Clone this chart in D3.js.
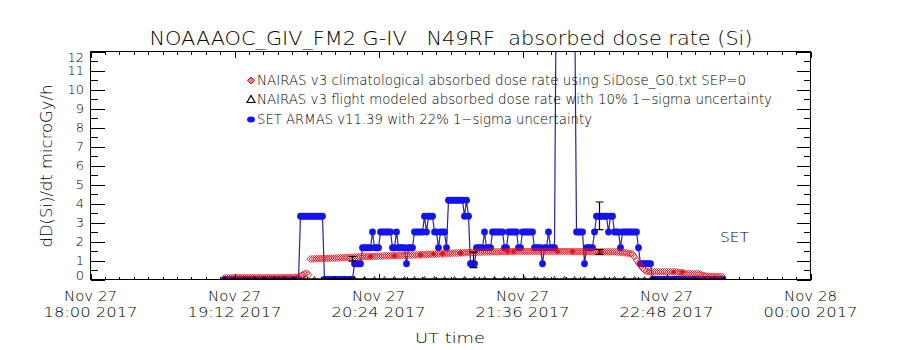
<!DOCTYPE html>
<html><head><meta charset="utf-8">
<script src="https://cdn.jsdelivr.net/npm/d3@7"></script>
<style>body{margin:0;background:#fff}</style>
</head><body><svg id="c" width="900" height="350"></svg>
<script>
// ---------- data ----------
const title = "NOAAAOC_GIV_FM2 G-IV   N49RF  absorbed dose rate (Si)";
const yTitle = "dD(Si)/dt microGy/h";
const xTitle = "UT time";
const xTickMinutes = [0, 72, 144, 216, 288, 360];          // minutes after 18:00 UT
const xTickLine1 = ["Nov 27","Nov 27","Nov 27","Nov 27","Nov 27","Nov 28"];
const xTickLine2 = ["18:00 2017","19:12 2017","20:24 2017","21:36 2017","22:48 2017","00:00 2017"];
const yTickValues = [0,1,2,3,4,5,6,7,8,9,10,11,12];
const legendLabels = [
  "NAIRAS v3 climatological absorbed dose rate using SiDose_G0.txt SEP=0",
  "NAIRAS v3 flight modeled absorbed dose rate with 10% 1\u2212sigma uncertainty",
  "SET ARMAS v11.39 with 22% 1\u2212sigma uncertainty"
];
const sideLabel = "SET";

const startMinute = 67;   // first 1-minute sample (19:07 UT)
// SET ARMAS v11.39 (microGy/h), one value per minute
const setValues = [
 0,0,0,0,0,0,0,0,0,0,0,0,0,0,0,0,0,0,0,0,0,0,0,0,0,0,0,0,0,0,0,0,0,0,0,0,0,0,
 3.33,3.33,3.33,3.33,3.33,3.33,3.33,3.33,3.33,3.33,3.33,3.33,
 0,0,0,0,0,0,0,0,0,0,0,0,0,0,0,
 0.83,0.83,0.83,0.83,
 1.67,1.67,1.67,1.67,1.67,
 2.5,
 1.67,1.67,1.67,
 2.5,2.5,2.5,2.5,2.5,2.5,
 1.67,1.67,
 2.5,
 1.67,1.67,1.67,1.67,
 0.83,
 1.67,1.67,1.67,
 2.5,2.5,2.5,2.5,2.5,
 3.33,
 2.5,
 3.33,3.33,3.33,
 2.5,2.5,
 1.67,
 2.5,2.5,2.5,
 1.67,
 4.17,4.17,4.17,4.17,4.17,4.17,4.17,4.17,
 3.33,
 4.17,
 3.33,
 0.83,0.83,0.83,
 1.67,1.67,1.67,1.67,
 2.5,
 1.67,1.67,1.67,
 2.5,2.5,2.5,2.5,2.5,2.5,
 1.67,1.67,
 2.5,2.5,2.5,2.5,2.5,
 1.67,1.67,
 2.5,2.5,2.5,2.5,2.5,2.5,
 1.67,1.67,1.67,1.67,
 0.83,
 1.67,1.67,
 2.5,
 1.67,1.67,1.67,
 18,26,31,28,22,20,27,24,19,16,
 2.5,2.5,2.5,2.5,
 0.83,
 1.67,1.67,1.67,1.67,
 2.5,
 3.33,3.33,3.33,3.33,3.33,3.33,
 2.5,
 3.33,3.33,
 2.5,2.5,2.5,
 1.67,
 2.5,2.5,2.5,2.5,2.5,2.5,2.5,2.5,
 1.67,
 0.83,0.83,0.83,0.83,0.83,0.83,
 0,0,0,0,0,0,0,0,0,0,0,0,0,0,0,0,0,0,0,0,0,0,0,0,0,0,0,0,0,0,0,0,0,0,0,0
];
// NAIRAS v3 climatological (microGy/h), one value per minute
const climValues = [
 0.08,0.08,0.09,0.09,0.09,0.1,0.1,0.1,0.1,0.1,0.1,0.1,0.1,0.1,0.1,0.1,0.1,0.1,0.1,0.1,
 0.1,0.1,0.1,0.1,0.1,0.1,0.1,0.1,0.11,0.11,0.11,0.11,0.11,0.11,0.12,0.12,0.12,0.14,
 0.18,0.24,0.3,0.32,0.26,
 1.08,1.08,1.09,1.09,1.1,1.1,1.1,1.11,1.11,1.12,1.12,1.12,1.13,1.13,1.14,1.14,1.15,1.15,1.16,1.16,1.17,1.17,
 1.18,1.18,1.19,1.19,1.2,1.2,1.21,1.21,1.21,1.22,1.22,1.23,1.23,1.23,1.24,1.24,1.25,1.25,1.25,1.26,
 1.26,1.26,1.27,1.27,1.27,1.28,1.28,1.28,1.29,1.29,1.29,1.3,1.3,1.3,1.31,1.31,1.32,1.32,1.33,
 1.33,1.34,1.34,1.35,1.35,1.36,1.36,1.37,1.37,1.38,1.38,1.39,1.39,1.4,1.4,1.41,1.41,1.42,1.42,1.43,
 1.43,1.43,1.44,1.44,1.44,1.45,1.45,1.45,1.45,1.46,1.46,1.46,1.46,1.46,1.47,1.47,1.47,1.47,1.47,1.47,
 1.48,1.48,1.48,1.48,1.48,1.48,1.48,1.48,1.48,1.48,1.48,1.48,1.48,1.48,1.48,1.48,1.48,1.48,1.48,1.48,
 1.48,1.48,1.48,1.48,1.48,1.48,1.48,1.48,1.48,1.48,1.47,1.47,1.47,1.47,1.47,1.47,1.47,1.47,1.47,1.47,
 1.46,1.46,1.46,1.46,1.46,1.46,1.46,1.46,1.46,1.46,1.46,1.46,
 1.45,1.44,1.43,1.42,1.41,1.4,1.38,1.36,1.33,
 1.2,1.02,0.86,0.74,0.6,0.5,
 0.43,0.41,0.4,0.4,0.4,0.4,0.4,0.4,0.4,0.4,0.4,0.4,0.4,0.4,0.4,0.39,0.38,0.36,
 0.33,0.31,0.3,0.3,0.3,0.3,0.3,0.3,0.3,0.28,
 0.22,0.19,0.18,0.17,0.17,0.17,0.16,0.16,0.15,0.15,0.14
];
// solid markers on the climatological curve
const climMarkMinutes = [140, 152, 165, 171.5, 176, 185, 208.5, 211.5, 233.5, 241, 255, 291.5, 296];
const climMarkValues  = [1.21, 1.24, 1.29, 1.33, 1.35, 1.4, 1.48, 1.48, 1.48, 1.47, 1.46, 0.4, 0.4];
// NAIRAS v3 flight modeled (microGy/h)
const flightMinutes = [67,72,77,82,87,92,97,102,107,112,117,122,127,132,137,142,147,152,157,162,167,172,177,182,187,192,
  197,202,207,212,217,222,227,232,237,242,247,252,257,262,267,272,277,282,287,292,297,302,307,312,317];
const flightValues  = [0,0,0,0,0,0,0,0,0,0,0,0,0,0,0,0,0,0,0,0,0,0,0,0,0,0,0,0,0,0,0,0,0,0,0,0,0,0,0,0,0,0,0,0,0,0,0,0,0,0,0];
// 1-sigma uncertainty bars
const errMinutes = [130.5, 191, 254, 254];
const errLow     = [0.97, 0.62, 2.62, 1.32];
const errHigh    = [1.21, 1.44, 4.08, 1.58];

// ---------- drawing ----------
const L = 90.5, R = 810.5, T = 51.5, B = 279.5;
const svg = d3.select("#c");
const x = d3.scaleLinear().domain([0, 360]).range([L, R]);
const y = d3.scaleLinear().domain([0, 12]).range([B, T]);
const FONT = "'DejaVu Sans', sans-serif";

svg.append("rect").attr("width", 900).attr("height", 350).attr("fill", "#fff");

svg.append("defs").append("clipPath").attr("id", "plotclip")
  .append("rect").attr("x", L).attr("y", T).attr("width", R - L).attr("height", B - T);
const plot = svg.append("g").attr("clip-path", "url(#plotclip)");

const setPts = setValues.map((v, i) => [startMinute + i, v]);
const climPts = climValues.map((v, i) => [startMinute + i, v]);

// SET ARMAS (blue)
plot.append("path").datum(setPts)
  .attr("d", d3.line().x(d => x(d[0])).y(d => y(d[1])))
  .attr("fill", "none").attr("stroke", "#24249c").attr("stroke-width", 1.2);
plot.selectAll("circle.set").data(setPts).join("circle").attr("class", "set")
  .attr("cx", d => x(d[0])).attr("cy", d => y(d[1])).attr("r", 3.4)
  .attr("fill", "#1414f0");

// climatological (red diamonds)
const diamond = (cx, cy, s) => `M${cx},${cy - s}L${cx + s},${cy}L${cx},${cy + s}L${cx - s},${cy}Z`;
plot.selectAll("path.clim").data(climPts).join("path").attr("class", "clim")
  .attr("d", d => diamond(x(d[0]), y(d[1]), 3.4))
  .attr("fill", "none").attr("stroke", "#e8101a").attr("stroke-width", 0.9);
plot.selectAll("path.climm").data(climMarkMinutes).join("path").attr("class", "climm")
  .attr("d", (m, i) => diamond(x(m), y(climMarkValues[i]), 3))
  .attr("fill", "#e8101a");

// flight modeled (black triangles)
const flightPts = flightMinutes.map((m, i) => [m, flightValues[i]]);
plot.append("path").datum(flightPts)
  .attr("d", d3.line().x(d => x(d[0])).y(d => y(d[1])))
  .attr("fill", "none").attr("stroke", "#000").attr("stroke-width", 2.5);
plot.selectAll("path.fl").data(flightPts).join("path").attr("class", "fl")
  .attr("d", d => `M${x(d[0]) - 2.5},${y(d[1]) + 1}L${x(d[0]) + 2.5},${y(d[1]) + 1}L${x(d[0])},${y(d[1]) - 3}Z`)
  .attr("fill", "none").attr("stroke", "#000").attr("stroke-width", 0.8);

// error bars
errMinutes.forEach((m, i) => {
  const g = plot.append("g").attr("stroke", "#000").attr("stroke-width", 1.2);
  const xc = Math.round(x(m)) + 0.5;
  g.append("line").attr("x1", xc).attr("x2", xc).attr("y1", y(errLow[i])).attr("y2", y(errHigh[i]));
  g.append("line").attr("x1", xc - 4).attr("x2", xc + 4).attr("y1", y(errLow[i])).attr("y2", y(errLow[i]));
  g.append("line").attr("x1", xc - 4).attr("x2", xc + 4).attr("y1", y(errHigh[i])).attr("y2", y(errHigh[i]));
});

// frame
svg.append("rect").attr("x", L).attr("y", T).attr("width", R - L).attr("height", B - T)
  .attr("fill", "none").attr("stroke", "#000").attr("stroke-width", 1);

// ticks
const ax = svg.append("g").attr("stroke", "#000").attr("stroke-width", 1).attr("shape-rendering", "crispEdges");
const minorX = d3.range(0, 361, 7.2);
minorX.forEach(m => {
  const isMajor = xTickMinutes.some(t => Math.abs(t - m) < 0.01);
  const len = isMajor ? 6 : 3;
  const xx = Math.round(x(m)) + 0.5;
  ax.append("line").attr("x1", xx).attr("x2", xx).attr("y1", B).attr("y2", B - len);
  ax.append("line").attr("x1", xx).attr("x2", xx).attr("y1", T).attr("y2", T + len);
});
d3.range(0, 12.01, 0.5).forEach(v => {
  const isMajor = Math.abs(v - Math.round(v)) < 0.01;
  const len = isMajor ? 14 : 7;
  const yy = Math.round(y(v)) + 0.5;
  ax.append("line").attr("x1", L).attr("x2", L + len).attr("y1", yy).attr("y2", yy);
  ax.append("line").attr("x1", R).attr("x2", R - len).attr("y1", yy).attr("y2", yy);
});

// tick labels
const txt = svg.append("g").attr("font-family", FONT).attr("fill", "#000").attr("font-weight", 200);
yTickValues.forEach(v => {
  let cy = y(v);
  if (v === 0) cy = 275;
  if (v === 12) cy = 57;
  txt.append("text").attr("x", 84).attr("y", cy + 4.8).attr("text-anchor", "end")
    .attr("font-size", 13).text(String(v));
});
xTickMinutes.forEach((m, i) => {
  txt.append("text").attr("x", x(m)).attr("y", 301).attr("text-anchor", "middle")
    .attr("font-size", 13.5)
    .attr("textLength", 53).attr("lengthAdjust", "spacingAndGlyphs").text(xTickLine1[i]);
  txt.append("text").attr("x", x(m)).attr("y", 317).attr("text-anchor", "middle")
    .attr("font-size", 13.5)
    .attr("textLength", 94).attr("lengthAdjust", "spacingAndGlyphs").text(xTickLine2[i]);
});
txt.append("text").attr("x", 450).attr("y", 343).attr("text-anchor", "middle")
  .attr("font-size", 14.5)
  .attr("textLength", 70).attr("lengthAdjust", "spacingAndGlyphs").text(xTitle);
txt.append("text").attr("transform", "translate(52,166) rotate(-90)").attr("text-anchor", "middle")
  .attr("font-size", 15)
  .attr("textLength", 163).attr("lengthAdjust", "spacingAndGlyphs").text(yTitle);
txt.append("text").attr("x", 451).attr("y", 45).attr("text-anchor", "middle")
  .attr("font-size", 19.5).attr("xml:space", "preserve")
  .style("white-space", "pre")
  .attr("textLength", 603).attr("lengthAdjust", "spacingAndGlyphs").text(title);

// legend
const legY = [80.5, 99.5, 119.5];
const legW = [489, 515, 335];
legendLabels.forEach((s, i) => {
  txt.append("text").attr("x", 257).attr("y", legY[i] + 4.8).attr("font-size", 13.5)
    .attr("textLength", legW[i]).attr("lengthAdjust", "spacingAndGlyphs").text(s);
});
svg.append("path").attr("d", diamond(251, legY[0], 3.5)).attr("fill", "#f08080").attr("stroke", "#d01018").attr("stroke-width", 1);
svg.append("path").attr("d", `M247,${legY[1] + 3}L255,${legY[1] + 3}L251,${legY[1] - 4}Z`)
  .attr("fill", "none").attr("stroke", "#000").attr("stroke-width", 1.2);
svg.append("ellipse").attr("cx", 251).attr("cy", legY[2]).attr("rx", 4).attr("ry", 3).attr("fill", "#1414f0");

txt.append("text").attr("x", 720).attr("y", 242).attr("font-size", 13.5)
  .attr("textLength", 29).attr("lengthAdjust", "spacingAndGlyphs").text(sideLabel);
</script>
</body></html>
